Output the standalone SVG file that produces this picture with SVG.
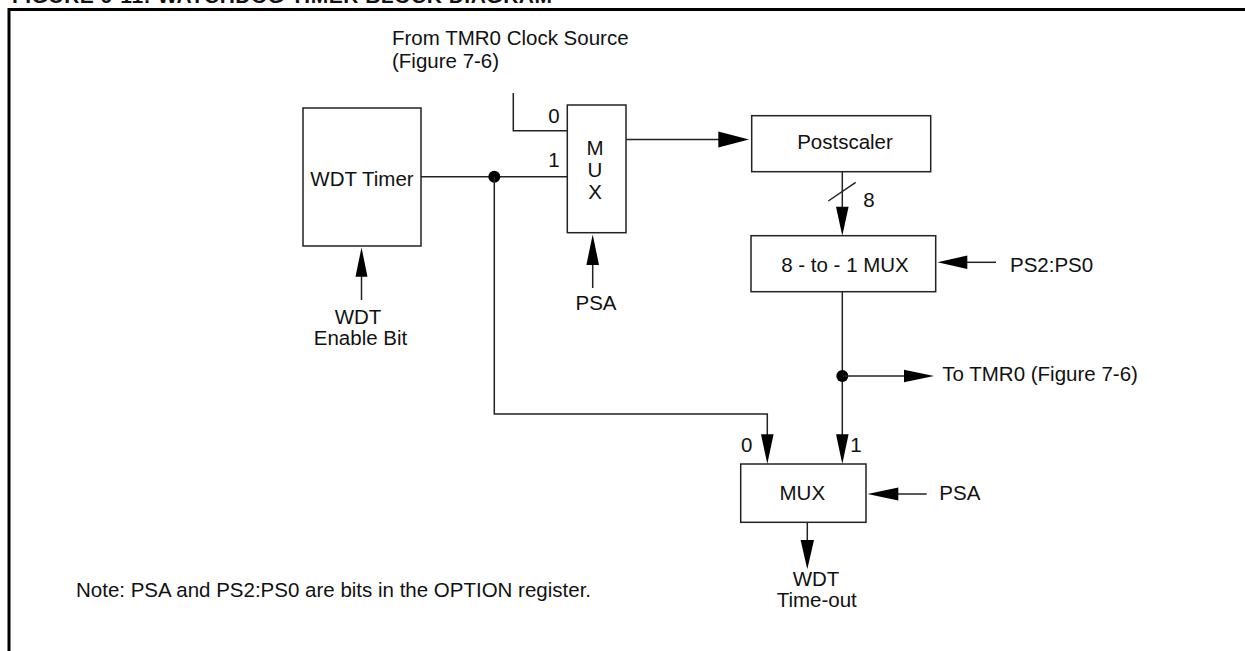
<svg xmlns="http://www.w3.org/2000/svg" width="1245" height="651" viewBox="0 0 1245 651">
<style>
text{font-family:"Liberation Sans",Arial,sans-serif;font-size:20.5px;fill:#111}
.box{fill:#fff;stroke:#222;stroke-width:1.5}
.ln{fill:none;stroke:#222;stroke-width:1.5}
.ah{fill:#000;stroke:none}
.c{text-anchor:middle}
</style>
<rect width="1245" height="651" fill="#fff"/>
<text x="12" y="3" style="font-weight:bold;font-size:21px" textLength="540">FIGURE 9-11:  WATCHDOG TIMER BLOCK DIAGRAM</text>
<path d="M9,660 V9.5 H1250" fill="none" stroke="#000" stroke-width="3"/>

<g id="connectors">
  <path class="ln" d="M513.3,93 V130.7 H567.3"/>
  <path class="ln" d="M421,176.7 H567.3"/>
  <circle cx="494.3" cy="176.7" r="6" fill="#000"/>
  <path class="ln" d="M494.3,176.7 V414 H767.3 V436"/>
  <polygon class="ah" points="761,434.3 773.6,434.3 767.3,464"/>
  <path class="ln" d="M626,139.5 H720"/>
  <polygon class="ah" points="718.3,131.5 718.3,147.5 749,139.5"/>
  <path class="ln" d="M592.7,288 V262"/>
  <polygon class="ah" points="586.4,265 599,265 592.7,234.5"/>
  <path class="ln" d="M361.5,300 V274"/>
  <polygon class="ah" points="355.5,276.7 367.5,276.7 361.5,247.5"/>
  <path class="ln" d="M842.3,171.7 V208"/>
  <path class="ln" d="M828.3,201 L855.7,182.3"/>
  <polygon class="ah" points="836,206.7 848.6,206.7 842.3,235.7"/>
  <path class="ln" d="M996,262.3 H965"/>
  <polygon class="ah" points="967.3,255.6 967.3,269 937.5,262.3"/>
  <path class="ln" d="M842.3,291.7 V436"/>
  <circle cx="842.3" cy="376" r="6" fill="#000"/>
  <path class="ln" d="M842.3,376 H906"/>
  <polygon class="ah" points="904,369.8 904,382.2 934,376"/>
  <polygon class="ah" points="836,434.3 848.6,434.3 842.3,464"/>
  <path class="ln" d="M926.7,494 H896"/>
  <polygon class="ah" points="898.3,487.5 898.3,500.5 867.5,494"/>
  <path class="ln" d="M807.3,522.3 V542"/>
  <polygon class="ah" points="800.6,540 814,540 807.3,569.3"/>
</g>

<g id="wdt-timer">
  <rect class="box" x="303" y="108" width="118" height="138"/>
  <text class="c" x="362" y="186">WDT Timer</text>
</g>
<g id="wdt-enable">
  <text class="c" x="358" y="324">WDT</text>
  <text class="c" x="360.5" y="345">Enable Bit</text>
</g>
<g id="tmr0-source">
  <text x="392" y="45">From TMR0 Clock Source</text>
  <text x="392" y="68">(Figure 7-6)</text>
</g>
<g id="mux1">
  <rect class="box" x="567.3" y="105" width="58.7" height="127.7"/>
  <text class="c" x="595" y="155">M</text>
  <text class="c" x="595" y="177">U</text>
  <text class="c" x="595" y="199">X</text>
  <text class="c" x="554" y="122.7">0</text>
  <text class="c" x="554" y="167.3">1</text>
</g>
<g id="psa1">
  <text class="c" x="596" y="310">PSA</text>
</g>
<g id="postscaler">
  <rect class="box" x="751.7" y="115.7" width="179" height="56"/>
  <text class="c" x="845" y="149.3">Postscaler</text>
  <text class="c" x="869" y="206.7">8</text>
</g>
<g id="mux8to1">
  <rect class="box" x="751" y="235.7" width="184.7" height="56"/>
  <text class="c" x="845" y="271.7">8 - to - 1 MUX</text>
</g>
<g id="ps2ps0">
  <text x="1010" y="271.7">PS2:PS0</text>
</g>
<g id="to-tmr0">
  <text x="942.3" y="381">To TMR0 (Figure 7-6)</text>
</g>
<g id="mux2">
  <rect class="box" x="740.7" y="464" width="125.3" height="58.3"/>
  <text class="c" x="802.3" y="500">MUX</text>
  <text class="c" x="746.7" y="451.7">0</text>
  <text class="c" x="856" y="451.7">1</text>
</g>
<g id="psa2">
  <text x="939.3" y="500">PSA</text>
</g>
<g id="wdt-timeout">
  <text class="c" x="816" y="585.7">WDT</text>
  <text class="c" x="816.7" y="607.3">Time-out</text>
</g>
<g id="note">
  <text x="76" y="596.7">Note: PSA and PS2:PS0 are bits in the OPTION register.</text>
</g>
</svg>
